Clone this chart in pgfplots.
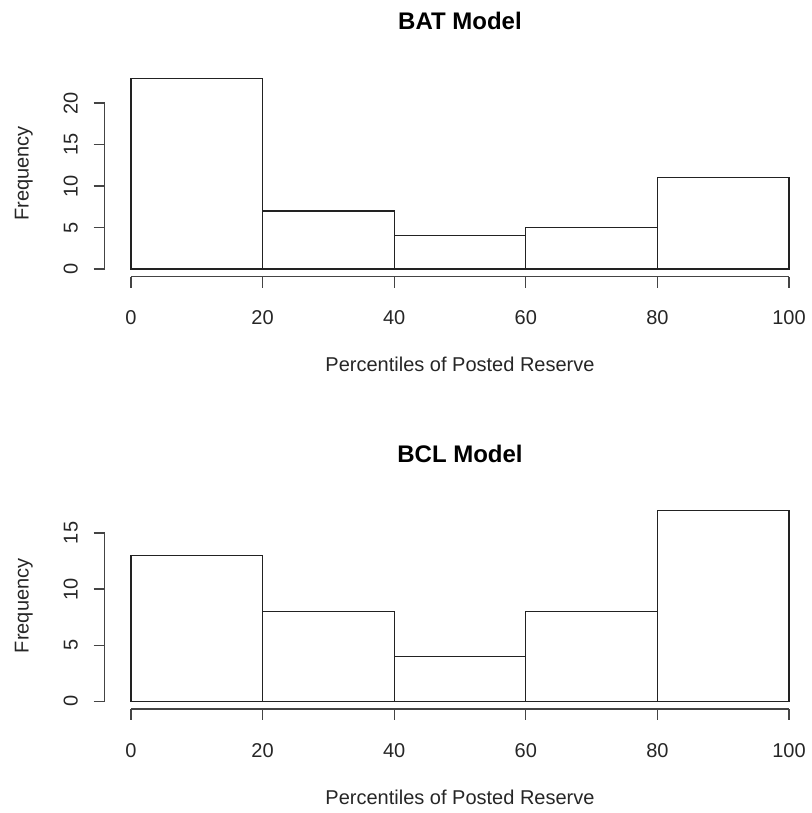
\documentclass[border=0pt]{standalone}
\usepackage{fontspec}
\setmainfont{Liberation Sans}
\usepackage{pgfplots}
\pgfplotsset{compat=1.18}
\definecolor{axc}{HTML}{444444}
\definecolor{barc}{HTML}{222222}
\pgfplotsset{
 rhist/.style={
  scale only axis, width=684.3pt, height=206pt,
  xmin=-4, xmax=100,
  axis x line=bottom, axis y line=left,
  axis line style={draw=none,-},
  xtick={0,20,...,100},
  tick align=outside, major tick length=11pt,
  tick style={draw=axc, line width=1.3pt},
  /pgf/number format/assume math mode=true,
  tick label style={font=\fontsize{20}{24}\selectfont, text=black!85},
  xticklabel style={anchor=north, inner sep=0pt},
  yticklabel style={rotate=90, anchor=south, inner sep=0pt},
  xticklabel shift=23pt,
  yticklabel shift=15.7pt,
  clip=false,
 }
}
\begin{document}
\begin{tikzpicture}[x=1pt,y=1pt]
\path[use as bounding box] (0,0) rectangle (811,-813);
% ---------- BAT Model ----------
\pgfplotstableread{
x y
0 23
20 7
40 4
60 5
80 11
100 11
}\batdata
\begin{axis}[rhist, at={(104.7pt,-276.6pt)}, anchor=south west,
  ymin=-0.92, ymax=23.92, ytick={0,5,...,20}]
  \addplot[ybar interval, draw=barc, line width=1.2pt, fill=white] table[x=x,y=y] {\batdata};
  \addplot[draw=axc, line width=1.4pt, mark=none, forget plot] coordinates {(0,-0.92) (100,-0.92)};
  \addplot[draw=axc, line width=1.4pt, mark=none, forget plot] coordinates {(-4,0) (-4,20)};
\end{axis}
\node[anchor=base, font=\fontsize{24}{28}\selectfont\bfseries] at (460,-30) {BAT Model};
\node[anchor=base, font=\fontsize{20}{24}\selectfont, text=black!85] at (460,-371.7) {Percentiles of Posted Reserve};
\node[anchor=base, rotate=90, font=\fontsize{20}{24}\selectfont, text=black!85] at (28.5,-173.5) {Frequency};
% ---------- BCL Model ----------
\pgfplotstableread{
x y
0 13
20 8
40 4
60 8
80 17
100 17
}\bcldata
\begin{axis}[rhist, at={(104.7pt,-708.9pt)}, anchor=south west,
  ymin=-0.68, ymax=17.68, ytick={0,5,...,15}]
  \addplot[ybar interval, draw=barc, line width=1.2pt, fill=white] table[x=x,y=y] {\bcldata};
  \addplot[draw=axc, line width=1.4pt, mark=none, forget plot] coordinates {(0,-0.68) (100,-0.68)};
  \addplot[draw=axc, line width=1.4pt, mark=none, forget plot] coordinates {(-4,0) (-4,15)};
\end{axis}
\node[anchor=base, font=\fontsize{24}{28}\selectfont\bfseries] at (460,-462.3) {BCL Model};
\node[anchor=base, font=\fontsize{20}{24}\selectfont, text=black!85] at (460,-804) {Percentiles of Posted Reserve};
\node[anchor=base, rotate=90, font=\fontsize{20}{24}\selectfont, text=black!85] at (28.5,-605.8) {Frequency};
\end{tikzpicture}
\end{document}
